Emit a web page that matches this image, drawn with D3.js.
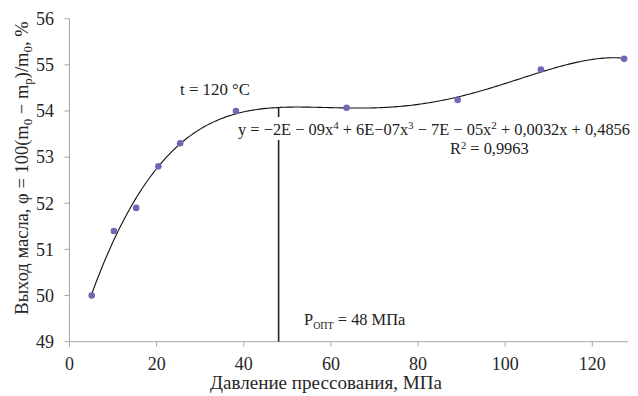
<!DOCTYPE html>
<html>
<head>
<meta charset="utf-8">
<script src="https://cdn.jsdelivr.net/npm/d3@7"></script>
<style>
  body { margin: 0; background: #fff; }
  text { font-family: "Liberation Serif", "Times New Roman", "DejaVu Serif", serif; }
</style>
</head>
<body>
<svg id="chart" width="638" height="396"></svg>
<script>
// pressure, MPa
var pressure = [5.1, 10.2, 15.3, 20.4, 25.4, 38.2, 63.6, 89.1, 108.2, 127.3];
// oil yield, %
var oilYield = [50.0, 51.4, 51.9, 52.8, 53.3, 54.0, 54.07, 54.24, 54.9, 55.13];
var xTicks = [0, 20, 40, 60, 80, 100, 120];
var yTicks = [49, 50, 51, 52, 53, 54, 55, 56];
var pOpt = 48;

var serif = "'Liberation Serif', 'Times New Roman', 'DejaVu Serif', serif";
var svg = d3.select("#chart");

var x = d3.scaleLinear().domain([0, 128.2]).range([69.5, 628]);
var y = d3.scaleLinear().domain([49, 56]).range([341.7, 18.7]);

// polynomial trend of degree 4 (least squares), x scaled by 1/100
function polyFit(xs, ys, deg) {
    var n = deg + 1;
    var A = [], b = [];
    for (var i = 0; i < n; i++) {
        A.push(new Array(n).fill(0));
        b.push(0);
    }
    xs.forEach(function (xv, k) {
        var t = xv / 100;
        for (var i = 0; i < n; i++) {
            for (var j = 0; j < n; j++) A[i][j] += Math.pow(t, i + j);
            b[i] += ys[k] * Math.pow(t, i);
        }
    });
    for (var c = 0; c < n; c++) {
        var p = c;
        for (var r = c + 1; r < n; r++) if (Math.abs(A[r][c]) > Math.abs(A[p][c])) p = r;
        var tmp = A[c]; A[c] = A[p]; A[p] = tmp;
        var tb = b[c]; b[c] = b[p]; b[p] = tb;
        for (var r = c + 1; r < n; r++) {
            var f = A[r][c] / A[c][c];
            for (var j = c; j < n; j++) A[r][j] -= f * A[c][j];
            b[r] -= f * b[c];
        }
    }
    var coef = new Array(n).fill(0);
    for (var i = n - 1; i >= 0; i--) {
        var s = b[i];
        for (var j = i + 1; j < n; j++) s -= A[i][j] * coef[j];
        coef[i] = s / A[i][i];
    }
    return function (xv) {
        var t = xv / 100, v = 0;
        for (var i = 0; i < n; i++) v += coef[i] * Math.pow(t, i);
        return v;
    };
}
var trend = polyFit(pressure, oilYield, 4);

var axisColor = "#a6a6a6";

// x axis
svg.append("line")
    .attr("x1", x(0)).attr("x2", x.range()[1])
    .attr("y1", y(49)).attr("y2", y(49))
    .attr("stroke", axisColor).attr("stroke-width", 1);
svg.selectAll(".xtick").data(xTicks).enter().append("line")
    .attr("x1", function (d) { return x(d); })
    .attr("x2", function (d) { return x(d); })
    .attr("y1", y(49)).attr("y2", y(49) + 5)
    .attr("stroke", axisColor);
svg.selectAll(".xlabel").data(xTicks).enter().append("text")
    .attr("x", function (d) { return x(d); })
    .attr("y", 369.5)
    .attr("text-anchor", "middle")
    .attr("font-family", serif)
    .attr("font-size", 18)
    .attr("fill", "#262626")
    .text(function (d) { return d; });

// y axis
svg.append("line")
    .attr("x1", x(0)).attr("x2", x(0))
    .attr("y1", y(49)).attr("y2", y(56))
    .attr("stroke", axisColor).attr("stroke-width", 1);
svg.selectAll(".ytick").data(yTicks).enter().append("line")
    .attr("x1", x(0) - 5).attr("x2", x(0))
    .attr("y1", function (d) { return y(d); })
    .attr("y2", function (d) { return y(d); })
    .attr("stroke", axisColor);
svg.selectAll(".ylabel").data(yTicks).enter().append("text")
    .attr("x", 54)
    .attr("y", function (d) { return y(d) + 6.3; })
    .attr("text-anchor", "end")
    .attr("font-family", serif)
    .attr("font-size", 18)
    .attr("fill", "#262626")
    .text(function (d) { return d; });

// optimum pressure line
svg.append("line")
    .attr("x1", x(pOpt)).attr("x2", x(pOpt))
    .attr("y1", y(49)).attr("y2", y(trend(pOpt)))
    .attr("stroke", "#222").attr("stroke-width", 1.6);

// trend line
var curvePts = d3.range(pressure[0], pressure[pressure.length - 1] + 0.01, 0.5);
svg.append("path")
    .datum(curvePts)
    .attr("fill", "none")
    .attr("stroke", "#111")
    .attr("stroke-width", 1.1)
    .attr("d", d3.line()
        .x(function (d) { return x(d); })
        .y(function (d) { return y(trend(d)); }));

// points
svg.selectAll(".pt").data(pressure).enter().append("circle")
    .attr("cx", function (d) { return x(d); })
    .attr("cy", function (d, i) { return y(oilYield[i]); })
    .attr("r", 3.3)
    .attr("fill", "#7565b5");

// equation label with white box
svg.append("rect")
    .attr("x", 236).attr("y", 117).attr("width", 394).attr("height", 23)
    .attr("fill", "#fff");

var eq = svg.append("text")
    .attr("x", 238).attr("y", 135)
    .attr("font-family", serif)
    .attr("font-size", 16.4)
    .attr("fill", "#222");
eq.append("tspan").text("y = −2E − 09x");
eq.append("tspan").attr("dy", -6).attr("font-size", 11).text("4");
eq.append("tspan").attr("dy", 6).text(" + 6E−07x");
eq.append("tspan").attr("dy", -6).attr("font-size", 11).text("3");
eq.append("tspan").attr("dy", 6).text(" − 7E − 05x");
eq.append("tspan").attr("dy", -6).attr("font-size", 11).text("2");
eq.append("tspan").attr("dy", 6).text(" + 0,0032x + 0,4856");

var r2 = svg.append("text")
    .attr("x", 450).attr("y", 154)
    .attr("font-family", serif)
    .attr("font-size", 16.4)
    .attr("fill", "#222");
r2.append("tspan").text("R");
r2.append("tspan").attr("dy", -5).attr("font-size", 10.5).text("2");
r2.append("tspan").attr("dy", 5).text(" = 0,9963");

// temperature label
svg.append("text")
    .attr("x", 215).attr("y", 95)
    .attr("text-anchor", "middle")
    .attr("font-family", serif)
    .attr("font-size", 16.8)
    .attr("fill", "#222")
    .text("t = 120 °C");

// optimum label
var po = svg.append("text")
    .attr("x", 304).attr("y", 325)
    .attr("font-family", serif)
    .attr("font-size", 16.4)
    .attr("fill", "#222");
po.append("tspan").text("P");
po.append("tspan").attr("dy", 4).attr("font-size", 10).text("ОПТ");
po.append("tspan").attr("dy", -4).text(" = 48 МПа");

// axis titles
svg.append("text")
    .attr("x", 326).attr("y", 389)
    .attr("text-anchor", "middle")
    .attr("font-family", serif)
    .attr("font-size", 18)
    .attr("textLength", 232)
    .attr("lengthAdjust", "spacingAndGlyphs")
    .attr("fill", "#262626")
    .text("Давление прессования, МПа");

var yt = svg.append("text")
    .attr("transform", "translate(28,168) rotate(-90)")
    .attr("text-anchor", "middle")
    .attr("font-family", serif)
    .attr("font-size", 18.5)
    .attr("fill", "#262626");
yt.append("tspan").text("Выход масла, φ = 100(m");
yt.append("tspan").attr("dy", 4).attr("font-size", 13).text("0");
yt.append("tspan").attr("dy", -4).text(" − m");
yt.append("tspan").attr("dy", 4).attr("font-size", 13).text("p");
yt.append("tspan").attr("dy", -4).text(")/m");
yt.append("tspan").attr("dy", 4).attr("font-size", 13).text("0");
yt.append("tspan").attr("dy", -4).text(", %");
</script>
</body>
</html>
